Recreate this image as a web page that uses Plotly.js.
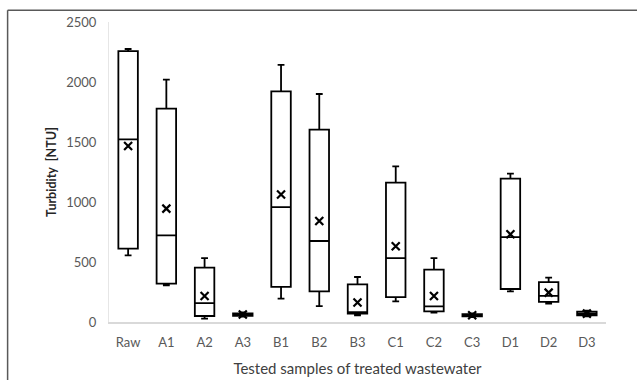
<!DOCTYPE html>
<html>
<head>
<meta charset="utf-8">
<script src="https://cdn.plot.ly/plotly-3.0.1.min.js"></script>
<style>html,body{margin:0;padding:0;background:#fff;}#chart{width:637px;height:380px;}</style>
</head>
<body>
<div id="chart"></div>
<script>
const categories = ["Raw","A1","A2","A3","B1","B2","B3","C1","C2","C3","D1","D2","D3"];
const minVals    = [556, 306,  28, 45, 195, 133,  56, 172,  78, 40, 256, 153, 47];
const q1Vals     = [612, 320,  50, 52, 292, 256,  70, 208,  89, 48, 275, 167, 55];
const medianVals = [1522,722, 158, 62, 958, 675,  83, 533, 131, 57, 708, 217, 70];
const q3Vals     = [2258,1778,453, 72, 1922,1603,314,1162, 437, 66, 1195,333, 86];
const maxVals    = [2275,2020,533, 80, 2142,1900,375,1297, 533, 72, 1236,370, 95];
const meanVals   = [1467,945, 217, 62, 1062,842, 162, 631, 217, 57, 731, 245, 70];

const yTicks = [0,500,1000,1500,2000,2500];
const xTitle = "Tested samples of treated wastewater";
const yTitle = "Turbidity  [NTU]";

const font = "Lato, 'Open Sans', sans-serif";

const boxTrace = {
  type: "box",
  x: categories,
  q1: q1Vals,
  median: medianVals,
  q3: q3Vals,
  lowerfence: minVals,
  upperfence: maxVals,
  fillcolor: "#ffffff",
  line: {color: "#000000", width: 1.8},
  whiskerwidth: 0.35,
  boxpoints: false,
  hoverinfo: "skip",
  showlegend: false
};

const meanTrace = {
  type: "scatter",
  mode: "markers",
  x: categories,
  y: meanVals,
  marker: {symbol: "x-thin", size: 8, color: "#000000", line: {color: "#000000", width: 2.2}},
  hoverinfo: "skip",
  showlegend: false
};

const layout = {
  width: 637, height: 380,
  margin: {l: 109, r: 31, t: 22, b: 58},
  paper_bgcolor: "#ffffff",
  plot_bgcolor: "#ffffff",
  boxgap: 0.49,
  boxgroupgap: 0,
  font: {family: font, color: "#595959", size: 13},
  xaxis: {
    type: "category",
    automargin: false,
    range: [-0.5, 12.5],
    showgrid: false,
    zeroline: false,
    showline: true,
    linecolor: "#d9d9d9",
    linewidth: 1.5,
    ticks: "",
    ticklabelstandoff: 8,
    tickfont: {family: font, size: 13, color: "#595959"},
    title: {text: xTitle, font: {family: font, size: 15, color: "#404040"}, standoff: 14}
  },
  yaxis: {
    automargin: false,
    range: [0, 2500],
    tickvals: yTicks,
    ticktext: yTicks.map(String),
    showgrid: false,
    zeroline: false,
    showline: true,
    linecolor: "#e6e6e6",
    linewidth: 1,
    ticks: "",
    ticklabelstandoff: 9,
    tickfont: {family: font, size: 13, color: "#595959"},
    title: {text: "<b>" + yTitle + "</b>", font: {family: font, size: 12.5, color: "#262626"}, standoff: 6}
  },
  shapes: [
    {type: "line", xref: "paper", yref: "paper", x0: -0.204, x1: -0.204, y0: -0.4, y1: 1.039,
     line: {color: "#595959", width: 1.5}},
    {type: "line", xref: "paper", yref: "paper", x0: -0.204, x1: 1.2, y0: 1.039, y1: 1.039,
     line: {color: "#595959", width: 1.5}}
  ]
};

Plotly.newPlot("chart", [boxTrace, meanTrace], layout, {staticPlot: true, displayModeBar: false});
</script>
</body>
</html>
